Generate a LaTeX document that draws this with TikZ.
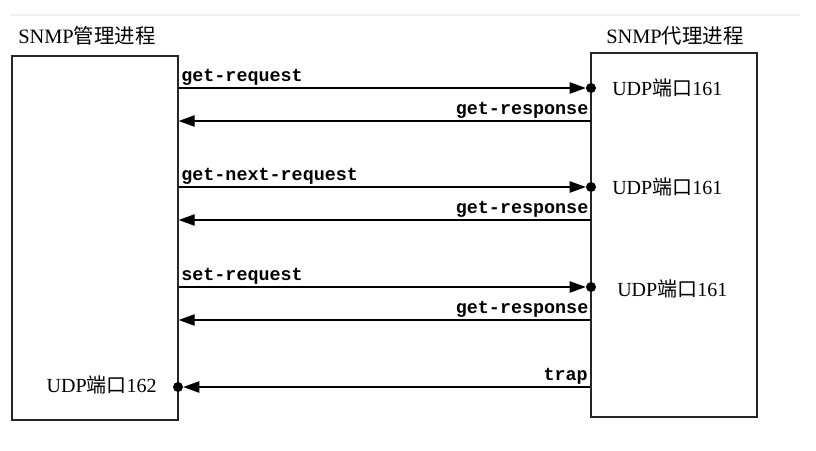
\documentclass[tikz,border=0pt]{standalone}
\usepackage{fontspec}
\setmainfont{Liberation Serif}
\setmonofont{Liberation Mono}
\newfontfamily\cjk{Noto Sans CJK SC}
\usetikzlibrary{arrows.meta, positioning}

\begin{document}
\begin{tikzpicture}[
    x=0.75pt, y=-0.75pt,
    process/.style={rectangle, draw=black!85, line width=1pt, minimum width=124.5pt, minimum height=273pt},
    title/.style={anchor=west, inner sep=0pt, font=\fontsize{15.3}{18}\selectfont},
    portlabel/.style={inner sep=0pt, font=\fontsize{15}{18}\selectfont},
    port/.style={circle, fill=black, inner sep=0pt, minimum size=7.5pt},
    msg/.style={line width=1pt, -{Triangle[length=12pt,width=8.5pt]}},
    msglabel/.style={inner sep=1.5pt, font=\ttfamily\bfseries\fontsize{13.8}{15}\selectfont}
]
\useasboundingbox (0,0) rectangle (816,450);
\draw[black!6, line width=1pt] (10,15) -- (800,15);

% the two processes
\node (mgr) [process] at (95,238) {};
\node (agt) [process] at (674,235) {};
\node (mgrtitle) [title] at (18,36) {SNMP{\cjk 管理进程}};
\node (agttitle) [title] at (606,36) {SNMP{\cjk 代理进程}};

% ports
\node (p1) [port] at (591,88) {};
\node (p2) [port] at (591,187) {};
\node (p3) [port] at (591,287) {};
\node (p4) [port] at (178,387) {};
\node (u1) [portlabel, anchor=west] at (612,88) {UDP{\cjk 端口}161};
\node (u2) [portlabel, anchor=west] at (612,187) {UDP{\cjk 端口}161};
\node (u3) [portlabel, anchor=west] at (617,289) {UDP{\cjk 端口}161};
\node (u4) [portlabel, anchor=east] at (157,385) {UDP{\cjk 端口}162};

\coordinate (r1) at (591,121);
\coordinate (r2) at (591,220);
\coordinate (r3) at (591,320);

% requests and responses
\draw [msg] (mgr.east |- p1) -- node[msglabel, pos=0, anchor=south west] {get-request} (p1);
\draw [msg] (r1) -- node[msglabel, pos=0, anchor=south east] {get-response} (mgr.east |- r1);
\draw [msg] (mgr.east |- p2) -- node[msglabel, pos=0, anchor=south west] {get-next-request} (p2);
\draw [msg] (r2) -- node[msglabel, pos=0, anchor=south east] {get-response} (mgr.east |- r2);
\draw [msg] (mgr.east |- p3) -- node[msglabel, pos=0, anchor=south west] {set-request} (p3);
\draw [msg] (r3) -- node[msglabel, pos=0, anchor=south east] {get-response} (mgr.east |- r3);
\draw [msg] (agt.west |- p4) -- node[msglabel, pos=0, anchor=south east] {trap} (p4);

\end{tikzpicture}
\end{document}
